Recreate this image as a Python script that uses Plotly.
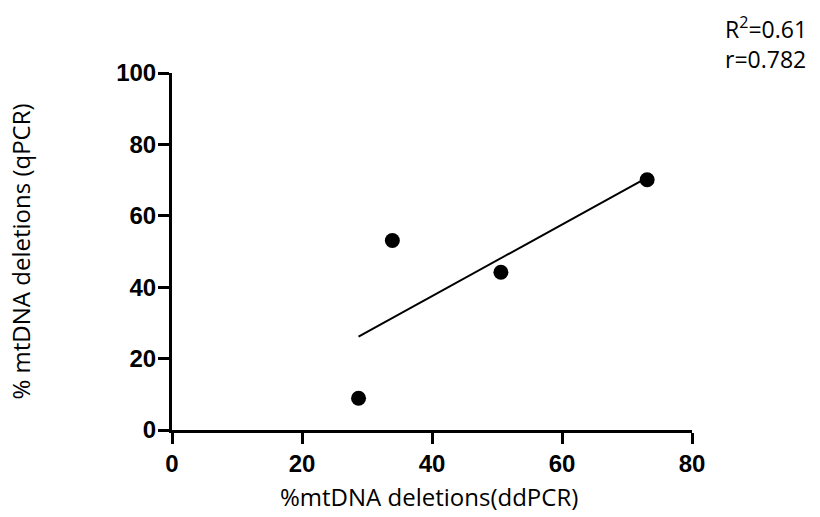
import numpy as np
import plotly.graph_objects as go

# % mtDNA deletions measured by the two methods (one point per sample)
ddpcr = [28.7, 33.9, 50.6, 73.1]
qpcr = [8.9, 53.1, 44.2, 70.1]

x_ticks = [0, 20, 40, 60, 80]
y_ticks = [0, 20, 40, 60, 80, 100]

r_squared_label = "R<sup>2</sup>=0.61"
r_label = "r=0.782"

# least-squares line across the observed ddPCR range
slope, intercept = np.polyfit(ddpcr, qpcr, 1)
fit_x = [min(ddpcr), max(ddpcr)]
fit_y = [slope * v + intercept for v in fit_x]

fig = go.Figure()
fig.add_trace(go.Scatter(
    x=fit_x, y=fit_y, mode="lines",
    line=dict(color="black", width=2),
    hoverinfo="skip", showlegend=False,
))
fig.add_trace(go.Scatter(
    x=ddpcr, y=qpcr, mode="markers",
    marker=dict(color="black", size=15),
    showlegend=False,
))

L, R, T, B = 172, 128, 73, 87
W, H = 820, 517
pw, ph = W - L - R, H - T - B

def px_x(px):
    return (px - L) / pw

def px_y(py):
    return (H - B - py) / ph

tick_font = dict(family="Liberation Sans, Arial, sans-serif", size=24, color="black", weight="bold")
axis_common = dict(
    showgrid=False, zeroline=False, showline=True,
    linecolor="black", linewidth=3,
    ticks="outside", ticklen=11, tickwidth=3, tickcolor="black",
    tickfont=tick_font, fixedrange=True,
)

fig.update_layout(
    width=W, height=H,
    margin=dict(l=L, r=R, t=T, b=B, autoexpand=False),
    paper_bgcolor="white", plot_bgcolor="white",
    font=dict(family="Open Sans, sans-serif", color="black"),
    xaxis=dict(range=[0, 80], tickvals=x_ticks, ticklabelstandoff=-1, **axis_common),
    yaxis=dict(range=[0, 100], tickvals=y_ticks, ticklabelstandoff=-3, **axis_common),
    annotations=[
        dict(text="%mtDNA deletions(ddPCR)", xref="paper", yref="paper",
             x=px_x(429), y=px_y(496), xanchor="center", yanchor="middle",
             showarrow=False, font=dict(size=24, family="Open Sans, sans-serif")),
        dict(text="% mtDNA deletions (qPCR)", xref="paper", yref="paper",
             x=px_x(20), y=0.5, xanchor="center", yanchor="middle", textangle=-90,
             showarrow=False, font=dict(size=24, family="Open Sans, sans-serif")),
        dict(text=r_squared_label + "<br>" + r_label, xref="paper", yref="paper",
             x=px_x(723), y=px_y(43), xanchor="left", yanchor="middle", align="left",
             showarrow=False, font=dict(size=23, family="Open Sans, sans-serif")),
    ],
)

fig.write_html("out.html", config={"displayModeBar": False})
